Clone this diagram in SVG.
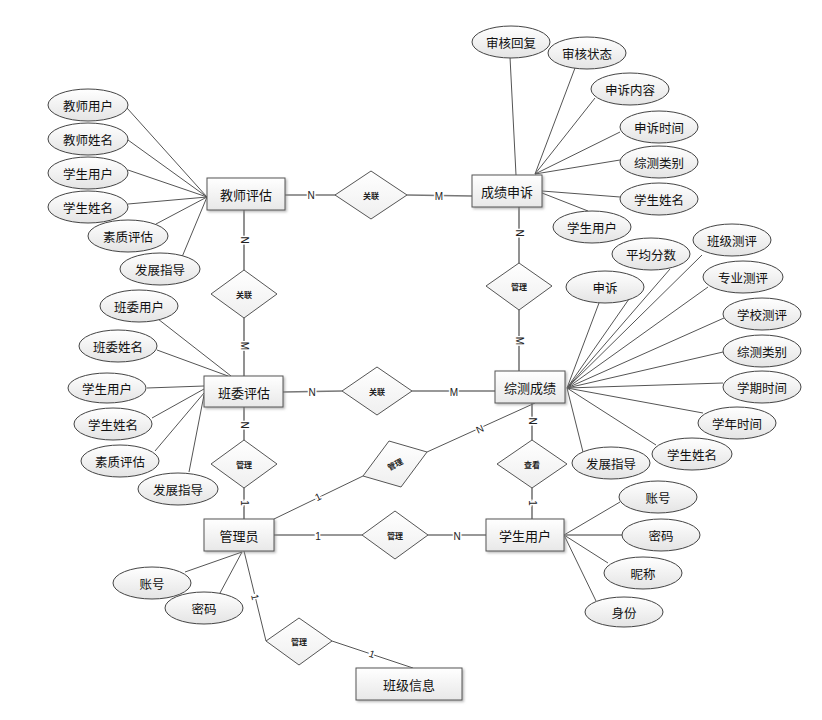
<svg xmlns="http://www.w3.org/2000/svg" width="822" height="720" viewBox="0 0 822 720">
<defs>
<linearGradient id="gE" x1="0" y1="0" x2="0" y2="1"><stop offset="0" stop-color="#ffffff"/><stop offset="1" stop-color="#e4e4e4"/></linearGradient>
<linearGradient id="gR" x1="0" y1="0" x2="0" y2="1"><stop offset="0" stop-color="#ffffff"/><stop offset="1" stop-color="#e8e8e8"/></linearGradient>
<linearGradient id="gD" x1="0" y1="0" x2="0" y2="1"><stop offset="0" stop-color="#ffffff"/><stop offset="1" stop-color="#efefef"/></linearGradient>
<filter id="sh" x="-10%" y="-10%" width="130%" height="140%"><feDropShadow dx="1.5" dy="1.5" stdDeviation="0.8" flood-color="#888" flood-opacity="0.6"/></filter>
</defs>
<style>
.ent{fill:url(#gR);stroke:#555;stroke-width:1;filter:url(#sh)}
.att{fill:url(#gE);stroke:#444;stroke-width:1}
.dia{fill:url(#gD);stroke:#555;stroke-width:1}
.rel{stroke:#777;stroke-width:1.6;fill:none}
.al{stroke:#555;stroke-width:1;fill:none}
.t{font-family:"Noto Sans CJK SC","Liberation Sans",sans-serif;font-size:12.5px;fill:#111;text-anchor:middle;dominant-baseline:central}
.te{font-family:"Noto Sans CJK SC","Liberation Sans",sans-serif;font-size:13px;fill:#111;text-anchor:middle;dominant-baseline:central}
.td{font-family:"Noto Sans CJK SC","Liberation Sans",sans-serif;font-size:8px;font-weight:bold;fill:#222;text-anchor:middle;dominant-baseline:central}
.lb{font-family:"Liberation Sans",sans-serif;font-size:10px;fill:#222;text-anchor:middle;dominant-baseline:central;stroke:#fff;stroke-width:3;paint-order:stroke}
</style>
<rect width="822" height="720" fill="#fff"/>
<g id="connectors">
<path class="rel" d="M285,195 L336,195 M407,195 L472,196 M244,210 L244,270 M244,318 L244,376 M519,207 L519,263 M519,310 L519,371 M283,392 L342,391 M412,391 L495,391 M244,407 L244,440 M244,488 L244,519 M532,403 L532,440 M532,488 L532,519 M274,535 L362,535 M428,535 L486,535"/>
<path class="al" d="M274,519 L363,476 M427,452 L535,403 M244,551 L266,641 M332,641 L413,668"/>
<path class="al" d="M127,108 L207,197 M128,140 L207,197 M128,170 L207,197 M128,204 L207,197 M156,224 L207,197 M182,257 L207,197"/>
<path class="al" d="M510,57 L516,175 M575,68 L535,174 M595,98 L535,174 M620,132 L535,174 M620,160 L535,174 M620,197 L542,191 M588,211 L542,193"/>
<path class="al" d="M158,319 L231,376 M157,350 L228,376 M147,388 L204,386 M152,418 L204,389 M155,451 L204,393"/>
<path class="al" stroke-width="1.4" d="M189,472 L204,395"/>
<path class="al" d="M567,388 L599,303 M567,388 L629,299 M567,388 L670,269 M567,388 L702,255 M567,388 L708,287 M567,388 L724,318 M567,388 L723,352 M567,388 L723,383 M567,388 L703,413 M567,388 L656,445 M567,388 L583,452"/>
<path class="al" d="M620,502 L564,535 M608,563 L564,535 M596,601 L564,535 M185,572 L242,552 M220,593 L242,552"/>
<path class="rel" d="M622,535 L564,535"/>
<text class="lb" x="311" y="195">N</text>
<text class="lb" x="439" y="196">M</text>
<text class="lb" x="244" y="240" transform="rotate(90 244 240)">N</text>
<text class="lb" x="244" y="346" transform="rotate(90 244 346)">M</text>
<text class="lb" x="519" y="233" transform="rotate(90 519 233)">N</text>
<text class="lb" x="519" y="341" transform="rotate(90 519 341)">M</text>
<text class="lb" x="312" y="392">N</text>
<text class="lb" x="454" y="392">M</text>
<text class="lb" x="244" y="425" transform="rotate(90 244 425)">N</text>
<text class="lb" x="244" y="503" transform="rotate(90 244 503)">1</text>
<text class="lb" x="532" y="421" transform="rotate(90 532 421)">N</text>
<text class="lb" x="532" y="503" transform="rotate(90 532 503)">1</text>
<text class="lb" x="318" y="536">1</text>
<text class="lb" x="457" y="536">N</text>
<text class="lb" x="318" y="497" transform="rotate(-26 318 497)">1</text>
<text class="lb" x="480" y="429" transform="rotate(-24 480 429)">N</text>
<text class="lb" x="255" y="597" transform="rotate(76 255 597)">1</text>
<text class="lb" x="372" y="654" transform="rotate(18 372 654)">1</text>
</g>
<g id="n-jspg"><rect class="ent" x="207" y="178" width="78" height="32"/><text class="te" x="246" y="194">教师评估</text></g>
<g id="n-cjss"><rect class="ent" x="472" y="175" width="70" height="32"/><text class="te" x="507" y="191">成绩申诉</text></g>
<g id="n-bwpg"><rect class="ent" x="204" y="376" width="79" height="31"/><text class="te" x="244" y="392">班委评估</text></g>
<g id="n-zccj"><rect class="ent" x="495" y="371" width="70" height="32"/><text class="te" x="530" y="387">综测成绩</text></g>
<g id="n-gly"><rect class="ent" x="204" y="519" width="70" height="32"/><text class="te" x="239" y="535">管理员</text></g>
<g id="n-xsyh"><rect class="ent" x="486" y="519" width="78" height="32"/><text class="te" x="525" y="535">学生用户</text></g>
<g id="n-bjxx"><rect class="ent" x="356" y="668" width="106" height="32"/><text class="te" x="409" y="684">班级信息</text></g>
<g id="r-gl1"><polygon class="dia" points="335,195 371,171 407,195 371,219"/><text class="td" x="371" y="195">关联</text></g>
<g id="r-gl2"><polygon class="dia" points="211,294 244,270 277,294 244,318"/><text class="td" x="244" y="294">关联</text></g>
<g id="r-gl3"><polygon class="dia" points="486,286 519,263 552,286 519,310"/><text class="td" x="519" y="286">管理</text></g>
<g id="r-gl4"><polygon class="dia" points="342,391 377,367 412,391 377,415"/><text class="td" x="377" y="391">关联</text></g>
<g id="r-gl5"><polygon class="dia" points="211,464 244,440 277,464 244,488"/><text class="td" x="244" y="464">管理</text></g>
<g id="r-ck"><polygon class="dia" points="497,464 532,440 567,464 532,488"/><text class="td" x="532" y="464">查看</text></g>
<g id="r-gl6"><polygon class="dia" points="363,476 389,441 427,452 401,487"/><text class="td" x="395" y="464" font-weight="normal" fill="#666" transform="rotate(-27 395 464)">管理</text></g>
<g id="r-gl7"><polygon class="dia" points="362,535 395,511 428,535 395,559"/><text class="td" x="395" y="535">管理</text></g>
<g id="r-gl8"><polygon class="dia" points="266,641 299,618 332,641 299,665"/><text class="td" x="299" y="641">管理</text></g>
<g id="a-jsyh"><ellipse class="att" cx="88" cy="105" rx="40" ry="16"/><text class="t" x="88" y="105">教师用户</text></g>
<g id="a-jsxm"><ellipse class="att" cx="88" cy="139" rx="40" ry="16"/><text class="t" x="88" y="139">教师姓名</text></g>
<g id="a-xsyh1"><ellipse class="att" cx="88" cy="173" rx="40" ry="16"/><text class="t" x="88" y="173">学生用户</text></g>
<g id="a-xsxm1"><ellipse class="att" cx="88" cy="207" rx="40" ry="16"/><text class="t" x="88" y="207">学生姓名</text></g>
<g id="a-szpg1"><ellipse class="att" cx="128" cy="236" rx="40" ry="16"/><text class="t" x="128" y="236">素质评估</text></g>
<g id="a-fzzd1"><ellipse class="att" cx="160" cy="269" rx="40" ry="16"/><text class="t" x="160" y="269">发展指导</text></g>
<g id="a-shhf"><ellipse class="att" cx="511" cy="42" rx="39" ry="16"/><text class="t" x="511" y="42">审核回复</text></g>
<g id="a-shzt"><ellipse class="att" cx="587" cy="53" rx="39" ry="16"/><text class="t" x="587" y="53">审核状态</text></g>
<g id="a-ssnr"><ellipse class="att" cx="630" cy="89" rx="39" ry="16"/><text class="t" x="630" y="89">申诉内容</text></g>
<g id="a-sssj"><ellipse class="att" cx="659" cy="127" rx="39" ry="16"/><text class="t" x="659" y="127">申诉时间</text></g>
<g id="a-zclb1"><ellipse class="att" cx="659" cy="162" rx="39" ry="16"/><text class="t" x="659" y="162">综测类别</text></g>
<g id="a-xsxm2"><ellipse class="att" cx="659" cy="199" rx="39" ry="16"/><text class="t" x="659" y="199">学生姓名</text></g>
<g id="a-xsyh2"><ellipse class="att" cx="592" cy="227" rx="39" ry="16"/><text class="t" x="592" y="227">学生用户</text></g>
<g id="a-bwyh"><ellipse class="att" cx="139" cy="306" rx="39" ry="16"/><text class="t" x="139" y="306">班委用户</text></g>
<g id="a-bwxm"><ellipse class="att" cx="118" cy="346" rx="39" ry="16"/><text class="t" x="118" y="346">班委姓名</text></g>
<g id="a-xsyh3"><ellipse class="att" cx="107" cy="388" rx="39" ry="15"/><text class="t" x="107" y="388">学生用户</text></g>
<g id="a-xsxm3"><ellipse class="att" cx="113" cy="424" rx="39" ry="16"/><text class="t" x="113" y="424">学生姓名</text></g>
<g id="a-szpg2"><ellipse class="att" cx="120" cy="461" rx="39" ry="16"/><text class="t" x="120" y="461">素质评估</text></g>
<g id="a-fzzd2"><ellipse class="att" cx="178" cy="489" rx="40" ry="16"/><text class="t" x="178" y="489">发展指导</text></g>
<g id="a-ss"><ellipse class="att" cx="605" cy="287" rx="39" ry="16"/><text class="t" x="605" y="287">申诉</text></g>
<g id="a-pjfs"><ellipse class="att" cx="651" cy="254" rx="39" ry="16"/><text class="t" x="651" y="254">平均分数</text></g>
<g id="a-bjcp"><ellipse class="att" cx="732" cy="240" rx="39" ry="16"/><text class="t" x="732" y="240">班级测评</text></g>
<g id="a-zycp"><ellipse class="att" cx="743" cy="277" rx="40" ry="16"/><text class="t" x="743" y="277">专业测评</text></g>
<g id="a-xxcp"><ellipse class="att" cx="762" cy="314" rx="39" ry="16"/><text class="t" x="762" y="314">学校测评</text></g>
<g id="a-zclb2"><ellipse class="att" cx="762" cy="351" rx="39" ry="16"/><text class="t" x="762" y="351">综测类别</text></g>
<g id="a-xqsj"><ellipse class="att" cx="762" cy="387" rx="39" ry="16"/><text class="t" x="762" y="387">学期时间</text></g>
<g id="a-xnsj"><ellipse class="att" cx="737" cy="423" rx="39" ry="16"/><text class="t" x="737" y="423">学年时间</text></g>
<g id="a-xsxm4"><ellipse class="att" cx="692" cy="454" rx="40" ry="16"/><text class="t" x="692" y="454">学生姓名</text></g>
<g id="a-fzzd3"><ellipse class="att" cx="611" cy="463" rx="39" ry="16"/><text class="t" x="611" y="463">发展指导</text></g>
<g id="a-zh1"><ellipse class="att" cx="658" cy="497" rx="39" ry="16"/><text class="t" x="658" y="497" font-size="10px">账号</text></g>
<g id="a-mm1"><ellipse class="att" cx="661" cy="535" rx="39" ry="16"/><text class="t" x="661" y="535" font-size="10px">密码</text></g>
<g id="a-nc"><ellipse class="att" cx="643" cy="573" rx="39" ry="16"/><text class="t" x="643" y="573" font-size="10px">昵称</text></g>
<g id="a-sf"><ellipse class="att" cx="624" cy="612" rx="39" ry="15"/><text class="t" x="624" y="612" font-size="10px">身份</text></g>
<g id="a-zh2"><ellipse class="att" cx="152" cy="583" rx="39" ry="16"/><text class="t" x="152" y="583" font-size="10px">账号</text></g>
<g id="a-mm2"><ellipse class="att" cx="204" cy="608" rx="39" ry="16"/><text class="t" x="204" y="608" font-size="10px">密码</text></g>
</svg>
